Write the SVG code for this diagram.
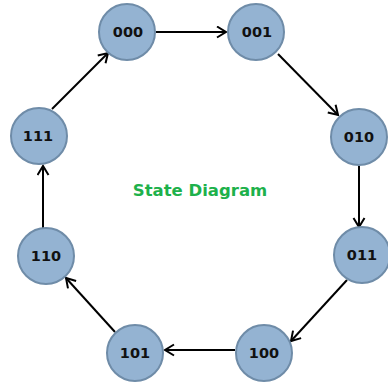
<svg xmlns="http://www.w3.org/2000/svg" width="388" height="383" viewBox="0 0 388 383">
<style>
.node circle{fill:#94b3d2;stroke:#6f8ca8;stroke-width:2}
.node text{font-family:"DejaVu Sans",sans-serif;font-weight:bold;font-size:14.5px;fill:#111;text-anchor:middle;dominant-baseline:central}
.edge{stroke:#000;stroke-width:2;fill:none;marker-end:url(#arr)}
.title{font-family:"DejaVu Sans",sans-serif;font-weight:bold;font-size:16.5px;fill:#1db14b;text-anchor:middle;dominant-baseline:central}
</style>
<defs>
<marker id="arr" markerUnits="userSpaceOnUse" markerWidth="14" markerHeight="14" refX="10" refY="6.5" orient="auto">
<path d="M1,1 L10,6.5 L1,12" fill="none" stroke="#000" stroke-width="2"/>
</marker>
</defs>
<g id="connectors">
<line class="edge" x1="156" y1="32" x2="226" y2="32"/>
<line class="edge" x1="278" y1="54" x2="338" y2="115"/>
<line class="edge" x1="359" y1="166" x2="359" y2="227"/>
<line class="edge" x1="347" y1="280" x2="291" y2="341"/>
<line class="edge" x1="235" y1="350" x2="165" y2="350"/>
<line class="edge" x1="115" y1="332" x2="66" y2="278"/>
<line class="edge" x1="43" y1="228" x2="43" y2="166"/>
<line class="edge" x1="52" y1="109" x2="108" y2="53"/>
</g>
<g id="n000" class="node"><circle cx="127" cy="32" r="28"/><text x="128" y="32">000</text></g>
<g id="n001" class="node"><circle cx="256" cy="32" r="28"/><text x="257" y="32">001</text></g>
<g id="n010" class="node"><circle cx="359" cy="137" r="28"/><text x="359" y="137">010</text></g>
<g id="n011" class="node"><circle cx="362" cy="255" r="28"/><text x="362" y="255">011</text></g>
<g id="n100" class="node"><circle cx="264" cy="353" r="28"/><text x="264" y="353">100</text></g>
<g id="n101" class="node"><circle cx="135" cy="353" r="28"/><text x="135" y="353">101</text></g>
<g id="n110" class="node"><circle cx="46" cy="256" r="28"/><text x="46" y="256">110</text></g>
<g id="n111" class="node"><circle cx="39" cy="136" r="28"/><text x="38" y="136">111</text></g>
<text class="title" x="200" y="190">State Diagram</text>
</svg>
